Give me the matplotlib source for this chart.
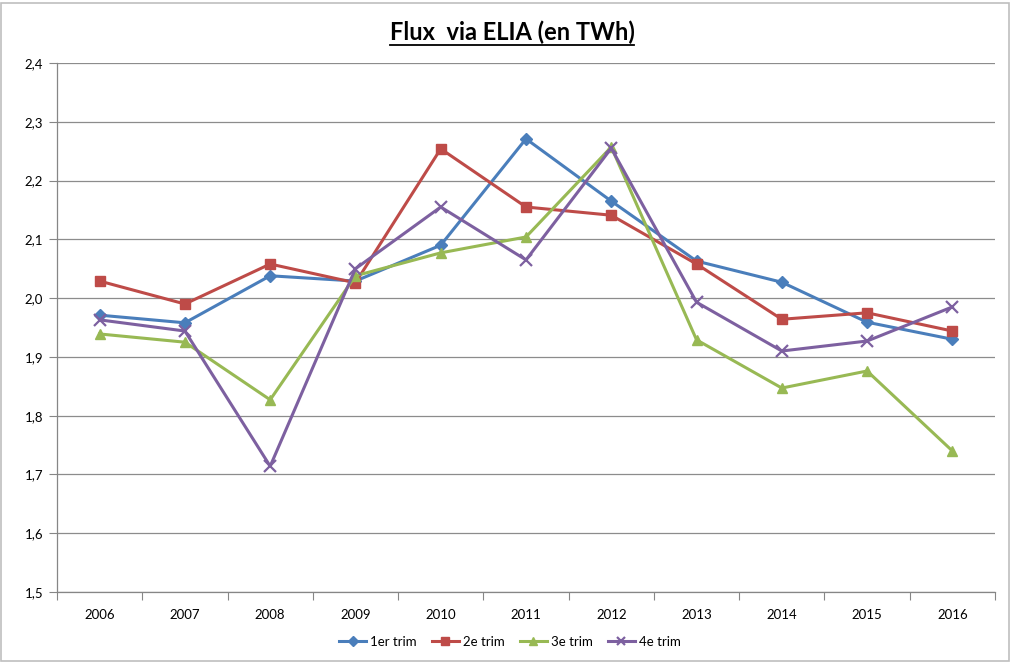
import matplotlib
matplotlib.use("Agg")
import matplotlib.pyplot as plt
from matplotlib.patches import Rectangle
from matplotlib.ticker import FuncFormatter, FixedLocator

years = ["2006", "2007", "2008", "2009", "2010", "2011", "2012", "2013", "2014", "2015", "2016"]
trim1 = [1.971, 1.958, 2.038, 2.029, 2.090, 2.271, 2.165, 2.063, 2.027, 1.959, 1.930]
trim2 = [2.029, 1.990, 2.058, 2.026, 2.254, 2.155, 2.141, 2.058, 1.964, 1.975, 1.944]
trim3 = [1.939, 1.925, 1.827, 2.038, 2.077, 2.104, 2.257, 1.929, 1.847, 1.876, 1.740]
trim4 = [1.963, 1.944, 1.714, 2.050, 2.155, 2.065, 2.255, 1.993, 1.910, 1.927, 1.985]
series_names = ["1er trim", "2e trim", "3e trim", "4e trim"]
title = "Flux  via ELIA (en TWh)"

plt.rcParams['font.family'] = ['Lato', 'DejaVu Sans']

fig = plt.figure(figsize=(10.18, 6.62), dpi=100)
ax = fig.add_axes([57/1018, 1-592/662, (995-57)/1018, (592-63)/662])

# chart border
fig.patches.append(Rectangle((1/1018, 1/662), 1008/1018, 1-4/662, transform=fig.transFigure,
                             fill=False, edgecolor="#BFBFBF", linewidth=1.2))

x = list(range(len(years)))
styles = [
    (trim1, "#4A7EBB", "D", 6.0, 1),
    (trim2, "#BE4B48", "s", 7.0, 1),
    (trim3, "#98B954", "^", 7.5, 1),
    (trim4, "#7D60A0", "x", 8.0, 1.6),
]
for (vals, col, mk, ms, mew), name in zip(styles, series_names):
    ax.plot(x, vals, color=col, marker=mk, markersize=ms, linewidth=2.2,
            markeredgewidth=mew, markeredgecolor=col, markerfacecolor=col, label=name)

ax.set_xlim(-0.5, len(years) - 0.5)
ax.set_ylim(1.5, 2.4)
ax.set_yticks([1.5 + 0.1 * i for i in range(10)])
ax.yaxis.set_major_formatter(FuncFormatter(lambda v, p: f"{v:.1f}".replace(".", ",")))
ax.set_xticks(x)
ax.set_xticklabels(years)
ax.xaxis.set_minor_locator(FixedLocator([i - 0.5 for i in range(len(years) + 1)]))
ax.tick_params(axis="x", which="major", length=0, pad=12, labelsize=9.5)
ax.tick_params(axis="x", which="minor", length=6, color="#868686", width=0.8)
ax.tick_params(axis="y", length=6, color="#868686", width=0.8, labelsize=9.5, pad=4)

ax.grid(axis="y", color="#8C8C8C", linewidth=0.9)
ax.set_axisbelow(True)
for s in ["top", "right"]:
    ax.spines[s].set_visible(False)
for s in ["left", "bottom"]:
    ax.spines[s].set_color("#868686")
    ax.spines[s].set_linewidth(0.9)

t = fig.text(512/1018, 1-32/662, title, ha="center", va="center", fontsize=17,
             fontweight="bold")
fig.canvas.draw()
bb = t.get_window_extent()
fig.add_artist(plt.Line2D([bb.x0 / 1018, bb.x1 / 1018], [(bb.y0 - 1) / 662] * 2,
                          transform=fig.transFigure, color="black", linewidth=1.3))

fig.legend(loc="center", bbox_to_anchor=(510/1018, 1-642/662), ncol=4, frameon=False,
           fontsize=9.5, handlelength=2.0, handletextpad=0.3, columnspacing=1.2,
           markerscale=0.8)

fig.savefig("out.png", dpi=100)
